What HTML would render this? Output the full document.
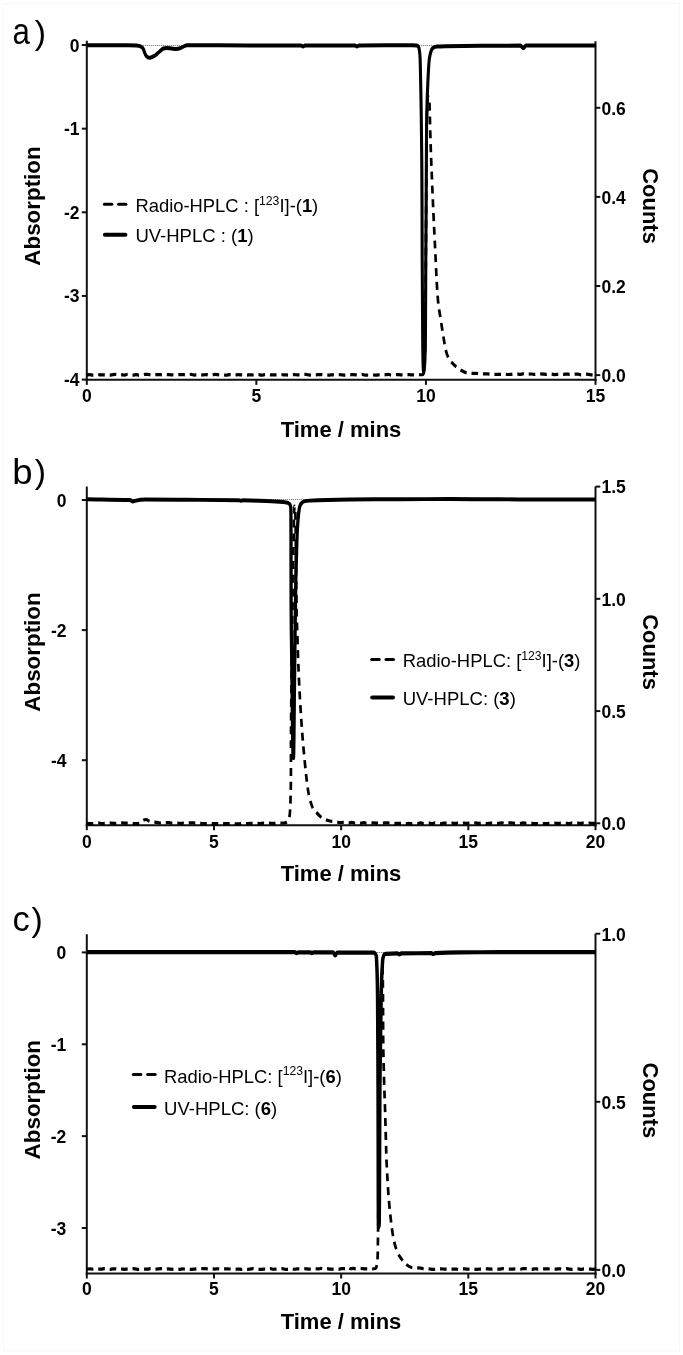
<!DOCTYPE html><html><head><meta charset="utf-8"><title>HPLC chromatograms</title>
<style>html,body{margin:0;padding:0;background:#fff;}svg{display:block;filter:blur(0.4px);}text{font-family:"Liberation Sans", sans-serif;fill:#000;}</style></head><body>
<svg width="683" height="1355" viewBox="0 0 683 1355">
<rect x="0" y="0" width="683" height="1355" fill="#fff"/>
<rect x="3.5" y="3.5" width="676" height="1347.5" fill="none" stroke="#f7f7f7" stroke-width="1"/>
<text x="0" y="0" font-size="36.0" font-weight="normal" transform="translate(12.40,43.80) scale(0.870,1)">a</text>
<text x="34.70" y="43.65" font-size="33.8" font-weight="normal">)</text>
<line x1="86.80" y1="45.50" x2="595.50" y2="45.50" stroke="#666" stroke-width="1" stroke-dasharray="1 1"/>
<line x1="86.80" y1="40.70" x2="86.80" y2="380.85" stroke="#111" stroke-width="2.00"/>
<line x1="595.50" y1="41.20" x2="595.50" y2="380.85" stroke="#111" stroke-width="2.00"/>
<line x1="85.80" y1="379.85" x2="596.50" y2="379.85" stroke="#111" stroke-width="2.00"/>
<line x1="81.80" y1="45.00" x2="86.80" y2="45.00" stroke="#111" stroke-width="2.00"/>
<text x="79.60" y="51.50" font-size="17.50" font-weight="bold" text-anchor="end" >0</text>
<line x1="81.80" y1="128.65" x2="86.80" y2="128.65" stroke="#111" stroke-width="2.00"/>
<text x="79.60" y="135.15" font-size="17.50" font-weight="bold" text-anchor="end" >-1</text>
<line x1="81.80" y1="212.30" x2="86.80" y2="212.30" stroke="#111" stroke-width="2.00"/>
<text x="79.60" y="218.80" font-size="17.50" font-weight="bold" text-anchor="end" >-2</text>
<line x1="81.80" y1="295.95" x2="86.80" y2="295.95" stroke="#111" stroke-width="2.00"/>
<text x="79.60" y="302.45" font-size="17.50" font-weight="bold" text-anchor="end" >-3</text>
<line x1="81.80" y1="379.60" x2="86.80" y2="379.60" stroke="#111" stroke-width="2.00"/>
<text x="79.60" y="386.10" font-size="17.50" font-weight="bold" text-anchor="end" >-4</text>
<line x1="595.50" y1="375.10" x2="600.30" y2="375.10" stroke="#111" stroke-width="2.00"/>
<text x="601.50" y="382.00" font-size="17.50" font-weight="bold" text-anchor="start" >0.0</text>
<line x1="595.50" y1="286.00" x2="600.30" y2="286.00" stroke="#111" stroke-width="2.00"/>
<text x="601.50" y="292.90" font-size="17.50" font-weight="bold" text-anchor="start" >0.2</text>
<line x1="595.50" y1="196.90" x2="600.30" y2="196.90" stroke="#111" stroke-width="2.00"/>
<text x="601.50" y="203.80" font-size="17.50" font-weight="bold" text-anchor="start" >0.4</text>
<line x1="595.50" y1="107.80" x2="600.30" y2="107.80" stroke="#111" stroke-width="2.00"/>
<text x="601.50" y="114.70" font-size="17.50" font-weight="bold" text-anchor="start" >0.6</text>
<line x1="86.80" y1="379.85" x2="86.80" y2="384.85" stroke="#111" stroke-width="2.00"/>
<text x="86.80" y="401.70" font-size="17.50" font-weight="bold" text-anchor="middle" >0</text>
<line x1="256.37" y1="379.85" x2="256.37" y2="384.85" stroke="#111" stroke-width="2.00"/>
<text x="256.37" y="401.70" font-size="17.50" font-weight="bold" text-anchor="middle" >5</text>
<line x1="425.93" y1="379.85" x2="425.93" y2="384.85" stroke="#111" stroke-width="2.00"/>
<text x="425.93" y="401.70" font-size="17.50" font-weight="bold" text-anchor="middle" >10</text>
<line x1="595.50" y1="379.85" x2="595.50" y2="384.85" stroke="#111" stroke-width="2.00"/>
<text x="595.50" y="401.70" font-size="17.50" font-weight="bold" text-anchor="middle" >15</text>
<text x="0" y="0" font-size="22.4" font-weight="bold" text-anchor="middle" transform="translate(40.3,206.00) rotate(-90)">Absorption</text>
<text x="0" y="0" font-size="22" font-weight="bold" text-anchor="middle" transform="translate(642.6,206.00) rotate(90)">Counts</text>
<text x="341.00" y="437.40" font-size="22.00" font-weight="bold" text-anchor="middle" >Time / mins</text>
<line x1="104.40" y1="204.30" x2="111.75" y2="204.30" stroke="#000" stroke-width="3.0" stroke-linecap="round"/>
<line x1="118.55" y1="204.30" x2="125.90" y2="204.30" stroke="#000" stroke-width="3.0" stroke-linecap="round"/>
<line x1="104.90" y1="234.70" x2="125.40" y2="234.70" stroke="#000" stroke-width="4.0" stroke-linecap="round"/>
<text x="135.40" y="212.30" font-size="18.4" font-weight="normal">Radio-HPLC : [<tspan font-size="12.2" dy="-7.4">123</tspan><tspan dy="7.4">I]-(</tspan><tspan font-weight="bold">1</tspan>)</text>
<text x="135.40" y="241.60" font-size="18.5" font-weight="normal">UV-HPLC : (<tspan font-weight="bold">1</tspan>)</text>
<g transform="scale(1,1.200)">
<path d="M86.80,312.42 C87.77,312.33 88.74,312.16 89.70,312.16 C90.67,312.16 91.64,312.66 92.61,312.66 C93.57,312.66 94.54,312.64 95.51,312.59 C96.48,312.55 97.44,312.24 98.41,312.24 C99.38,312.24 100.35,312.40 101.31,312.40 C102.28,312.40 103.25,312.37 104.22,312.37 C105.18,312.37 106.15,312.47 107.12,312.51 C108.09,312.55 109.05,312.60 110.02,312.60 C110.99,312.60 111.96,312.15 112.92,312.11 C113.89,312.08 114.86,312.07 115.83,312.07 C116.79,312.07 117.76,312.63 118.73,312.63 C119.70,312.63 120.66,312.34 121.63,312.34 C122.60,312.34 123.57,312.57 124.53,312.57 C125.50,312.57 126.47,312.04 127.44,312.04 C128.40,312.04 129.37,312.26 130.34,312.35 C131.31,312.43 132.27,312.54 133.24,312.54 C134.21,312.54 135.18,312.19 136.14,312.19 C137.11,312.19 138.08,312.69 139.05,312.69 C140.01,312.69 140.98,312.68 141.95,312.66 C142.92,312.64 143.88,312.05 144.85,312.05 C145.82,312.04 146.79,312.04 147.75,312.04 C148.72,312.04 149.69,312.29 150.66,312.40 C151.62,312.50 152.59,312.67 153.56,312.67 C154.53,312.67 155.49,312.36 156.46,312.28 C157.43,312.20 158.40,312.16 159.36,312.16 C160.33,312.16 161.30,312.31 162.27,312.31 C163.23,312.31 164.20,312.03 165.17,312.03 C166.14,312.03 167.10,312.12 168.07,312.16 C169.04,312.21 170.01,312.29 170.97,312.31 C171.94,312.34 172.91,312.35 173.88,312.35 C174.84,312.35 175.81,312.17 176.78,312.16 C177.75,312.16 178.71,312.16 179.68,312.16 C180.65,312.16 181.62,312.15 182.58,312.15 C183.55,312.15 184.52,312.32 185.49,312.32 C186.45,312.32 187.42,312.25 188.39,312.19 C189.36,312.14 190.32,312.00 191.29,312.00 C192.26,312.00 193.23,312.57 194.19,312.57 C195.16,312.57 196.13,312.40 197.10,312.37 C198.06,312.35 199.03,312.33 200.00,312.33 C200.98,312.33 201.96,312.43 202.94,312.43 C203.92,312.43 204.90,312.11 205.88,312.11 C206.86,312.11 207.84,312.68 208.82,312.68 C209.80,312.68 210.78,312.65 211.76,312.59 C212.75,312.52 213.73,312.07 214.71,312.07 C215.69,312.07 216.67,312.15 217.65,312.22 C218.63,312.29 219.61,312.49 220.59,312.49 C221.57,312.49 222.55,312.48 223.53,312.48 C224.51,312.48 225.49,312.64 226.47,312.64 C227.45,312.64 228.43,312.28 229.41,312.28 C230.39,312.28 231.37,312.56 232.35,312.56 C233.33,312.56 234.31,312.51 235.29,312.45 C236.27,312.39 237.25,312.20 238.24,312.20 C239.22,312.20 240.20,312.33 241.18,312.39 C242.16,312.46 243.14,312.60 244.12,312.60 C245.10,312.60 246.08,312.59 247.06,312.58 C248.04,312.56 249.02,312.34 250.00,312.34 C250.98,312.34 251.96,312.40 252.94,312.40 C253.92,312.40 254.90,312.01 255.88,312.01 C256.86,312.01 257.84,312.06 258.82,312.15 C259.80,312.24 260.78,312.54 261.76,312.54 C262.75,312.54 263.73,312.35 264.71,312.27 C265.69,312.20 266.67,312.10 267.65,312.10 C268.63,312.10 269.61,312.31 270.59,312.37 C271.57,312.43 272.55,312.48 273.53,312.48 C274.51,312.48 275.49,312.47 276.47,312.46 C277.45,312.44 278.43,312.25 279.41,312.25 C280.39,312.25 281.37,312.28 282.35,312.29 C283.33,312.31 284.31,312.31 285.29,312.34 C286.27,312.37 287.25,312.53 288.24,312.53 C289.22,312.53 290.20,312.39 291.18,312.35 C292.16,312.30 293.14,312.26 294.12,312.26 C295.10,312.26 296.08,312.32 297.06,312.33 C298.04,312.33 299.02,312.33 300.00,312.33 C300.98,312.33 301.97,312.00 302.95,312.00 C303.93,312.00 304.92,312.01 305.90,312.01 C306.88,312.02 307.87,312.37 308.85,312.48 C309.83,312.59 310.82,312.67 311.80,312.67 C312.78,312.67 313.77,312.47 314.75,312.40 C315.73,312.33 316.72,312.31 317.70,312.26 C318.68,312.21 319.67,312.10 320.65,312.10 C321.63,312.10 322.62,312.24 323.60,312.33 C324.58,312.43 325.57,312.67 326.55,312.67 C327.53,312.67 328.52,312.57 329.50,312.52 C330.48,312.47 331.47,312.36 332.45,312.36 C333.43,312.36 334.42,312.59 335.40,312.59 C336.38,312.59 337.37,312.15 338.35,312.15 C339.33,312.15 340.32,312.26 341.30,312.34 C342.28,312.43 343.27,312.65 344.25,312.65 C345.23,312.65 346.22,312.44 347.20,312.39 C348.18,312.33 349.17,312.34 350.15,312.30 C351.13,312.27 352.12,312.17 353.10,312.17 C354.08,312.17 355.07,312.29 356.05,312.37 C357.03,312.45 358.02,312.65 359.00,312.65 C359.98,312.65 360.97,311.99 361.95,311.99 C362.93,311.99 363.92,312.51 364.90,312.53 C365.88,312.55 366.87,312.55 367.85,312.56 C368.83,312.57 369.82,312.60 370.80,312.60 C371.78,312.60 372.77,312.50 373.75,312.50 C374.73,312.50 375.72,312.55 376.70,312.55 C377.68,312.55 378.67,312.35 379.65,312.35 C380.63,312.35 381.62,312.38 382.60,312.38 C383.58,312.38 384.57,312.34 385.55,312.28 C386.53,312.22 387.52,312.02 388.50,312.02 C389.48,312.02 390.47,312.59 391.45,312.59 C392.43,312.59 393.42,312.46 394.40,312.38 C395.38,312.30 396.37,312.12 397.35,312.12 C398.33,312.12 399.32,312.34 400.30,312.34 C401.28,312.34 402.27,312.33 403.25,312.32 C404.23,312.31 405.22,312.24 406.20,312.23 C407.18,312.23 408.17,312.23 409.15,312.23 C410.13,312.23 411.12,312.33 412.10,312.36 C413.08,312.39 414.07,312.42 415.05,312.42 C416.03,312.42 417.02,312.36 418.00,312.33 C419.53,312.28 421.07,312.28 422.60,312.17 C423.13,312.13 423.67,311.31 424.20,309.58 C424.40,308.94 424.60,305.76 424.80,300.00 C425.00,294.24 425.20,291.67 425.40,275.00 C425.53,263.89 425.67,234.72 425.80,216.67 C425.93,198.61 426.07,187.35 426.20,166.67 C426.30,151.15 426.40,122.08 426.50,113.33 C426.63,101.67 426.77,100.46 426.90,95.83 C427.07,90.05 427.23,85.95 427.40,84.17 C427.63,81.67 427.87,80.42 428.10,80.42 C428.37,80.42 428.63,80.97 428.90,82.08 C429.10,82.92 429.30,83.61 429.50,86.67 C429.63,88.70 429.77,94.13 429.90,98.33 C430.00,101.49 430.10,105.15 430.20,108.33 C430.80,127.46 431.40,137.32 432.00,150.00 C432.50,160.56 433.00,169.98 433.50,179.17 C434.07,189.58 434.63,198.74 435.20,208.33 C435.87,219.62 436.53,232.87 437.20,241.67 C438.40,257.50 439.60,259.56 440.80,266.67 C441.40,270.22 442.00,273.31 442.60,276.42 C443.73,282.29 444.87,288.67 446.00,292.50 C446.93,295.65 447.87,297.22 448.80,298.83 C450.03,300.97 451.27,301.53 452.50,302.67 C453.83,303.89 455.17,304.89 456.50,305.83 C458.00,306.89 459.50,307.82 461.00,308.58 C463.00,309.60 465.00,310.48 467.00,310.83 C468.08,311.02 469.17,311.06 470.25,311.12 C471.33,311.18 472.42,311.22 473.50,311.22 C474.58,311.22 475.67,311.13 476.75,311.13 C477.83,311.13 478.92,311.67 480.00,311.67 C481.03,311.67 482.05,311.51 483.08,311.50 C484.10,311.48 485.13,311.48 486.15,311.48 C487.18,311.48 488.21,311.70 489.23,311.78 C490.26,311.87 491.28,312.00 492.31,312.00 C493.33,312.00 494.36,311.97 495.38,311.97 C496.41,311.97 497.44,311.98 498.46,311.99 C499.49,312.00 500.51,312.02 501.54,312.02 C502.56,312.02 503.59,311.65 504.62,311.65 C505.64,311.65 506.67,312.08 507.69,312.08 C508.72,312.08 509.74,312.05 510.77,311.98 C511.79,311.91 512.82,311.60 513.85,311.59 C514.87,311.57 515.90,311.56 516.92,311.56 C517.95,311.56 518.97,311.92 520.00,311.92 C520.97,311.92 521.94,311.58 522.90,311.58 C523.87,311.58 524.84,312.11 525.81,312.11 C526.78,312.11 527.74,311.82 528.71,311.76 C529.68,311.70 530.65,311.67 531.62,311.67 C532.58,311.67 533.55,312.04 534.52,312.04 C535.49,312.04 536.46,311.91 537.42,311.85 C538.39,311.78 539.36,311.66 540.33,311.66 C541.29,311.66 542.26,311.68 543.23,311.73 C544.20,311.78 545.17,311.99 546.13,311.99 C547.10,311.99 548.07,311.75 549.04,311.75 C550.01,311.75 550.97,311.78 551.94,311.83 C552.91,311.88 553.88,312.14 554.85,312.14 C555.81,312.14 556.78,312.01 557.75,311.97 C558.72,311.92 559.69,311.88 560.65,311.88 C561.62,311.88 562.59,311.99 563.56,311.99 C564.53,311.99 565.49,311.69 566.46,311.69 C567.43,311.69 568.40,311.93 569.37,311.95 C570.33,311.97 571.30,311.98 572.27,311.98 C573.24,311.98 574.21,311.85 575.17,311.82 C576.14,311.79 577.11,311.77 578.08,311.77 C579.04,311.77 580.01,312.33 580.98,312.33 C581.95,312.33 582.92,312.14 583.88,312.06 C584.85,311.99 585.82,311.86 586.79,311.86 C587.76,311.86 588.72,312.07 589.69,312.14 C590.66,312.22 591.63,312.30 592.60,312.30 C593.56,312.30 594.53,312.16 595.50,312.08" fill="none" stroke="#000" stroke-width="2.70" stroke-dasharray="6.6 4.9" stroke-linejoin="round"/>
</g>
<g transform="scale(1,1.300)">
<path d="M86.80,34.77 C97.87,34.79 108.93,34.80 120.00,34.85 C125.47,34.87 130.93,34.87 136.40,34.92 C137.97,34.94 139.53,35.26 141.10,35.92 C141.87,36.25 142.63,36.54 143.40,37.77 C143.80,38.41 144.20,39.67 144.60,40.46 C145.17,41.58 145.73,42.66 146.30,43.15 C147.30,44.03 148.30,44.46 149.30,44.46 C150.07,44.46 150.83,44.21 151.60,44.00 C152.77,43.69 153.93,43.28 155.10,42.69 C156.67,41.91 158.23,40.56 159.80,39.54 C160.97,38.78 162.13,37.62 163.30,37.31 C164.47,37.00 165.63,36.85 166.80,36.85 C168.37,36.85 169.93,37.15 171.50,37.31 C173.07,37.46 174.63,37.77 176.20,37.77 C177.77,37.77 179.33,37.33 180.90,36.85 C182.07,36.48 183.23,35.82 184.40,35.46 C185.23,35.20 186.07,34.85 186.90,34.85 C207.93,34.85 228.97,34.92 250.00,34.92 C267.00,34.92 284.00,34.92 301.00,34.92 C301.67,34.92 302.33,35.69 303.00,35.69 C303.67,35.69 304.33,34.92 305.00,34.92 C321.67,34.92 338.33,34.92 355.00,34.92 C355.67,34.92 356.33,35.69 357.00,35.69 C357.67,35.69 358.33,34.93 359.00,34.92 C376.67,34.87 394.33,34.85 412.00,34.85 C413.60,34.85 415.20,34.87 416.80,34.92 C417.40,34.94 418.00,35.38 418.60,36.31 C418.93,36.82 419.27,37.54 419.60,40.00 C419.77,41.23 419.93,41.54 420.10,44.62 C420.30,48.31 420.50,56.52 420.70,64.62 C420.97,75.41 421.23,83.33 421.50,104.62 C421.67,117.92 421.83,121.68 422.00,153.85 C422.07,166.71 422.13,186.67 422.20,200.00 C422.37,233.33 422.53,247.97 422.70,261.54 C422.83,272.39 422.97,277.54 423.10,280.77 C423.23,284.00 423.37,285.62 423.50,285.62 C423.67,285.62 423.83,285.62 424.00,285.62 C424.20,285.62 424.40,283.75 424.60,280.77 C424.87,276.79 425.13,274.36 425.40,261.54 C425.53,255.13 425.67,217.95 425.80,200.00 C425.93,182.05 426.07,172.94 426.20,153.85 C426.30,139.52 426.40,112.75 426.50,104.62 C426.73,85.64 426.97,82.95 427.20,76.15 C427.40,70.33 427.60,68.16 427.80,64.62 C428.03,60.48 428.27,56.54 428.50,53.46 C428.73,50.38 428.97,47.98 429.20,46.15 C429.50,43.81 429.80,43.28 430.10,42.15 C430.57,40.41 431.03,39.32 431.50,38.46 C432.17,37.23 432.83,36.91 433.50,36.62 C434.67,36.10 435.83,35.94 437.00,35.85 C439.67,35.64 442.33,35.59 445.00,35.54 C456.67,35.33 468.33,35.31 480.00,35.23 C493.50,35.14 507.00,35.08 520.50,35.08 C521.43,35.08 522.37,37.08 523.30,37.08 C524.20,37.08 525.10,35.09 526.00,35.08 C537.33,34.97 548.67,34.92 560.00,34.92 C571.83,34.92 583.67,34.92 595.50,34.92" fill="none" stroke="#000" stroke-width="3.10" stroke-linejoin="round" stroke-linecap="butt"/>
</g>
<text x="0" y="0" font-size="34.5" font-weight="normal" transform="translate(12.30,484.00) scale(1.060,1)">b</text>
<text x="34.70" y="483.45" font-size="33.8" font-weight="normal">)</text>
<line x1="86.80" y1="499.50" x2="595.50" y2="499.50" stroke="#666" stroke-width="1" stroke-dasharray="1 1"/>
<line x1="86.80" y1="486.60" x2="86.80" y2="826.20" stroke="#111" stroke-width="2.00"/>
<line x1="595.50" y1="486.60" x2="595.50" y2="826.20" stroke="#111" stroke-width="2.00"/>
<line x1="85.80" y1="825.20" x2="596.50" y2="825.20" stroke="#111" stroke-width="2.00"/>
<line x1="81.80" y1="500.00" x2="86.80" y2="500.00" stroke="#111" stroke-width="2.00"/>
<text x="66.60" y="506.50" font-size="17.50" font-weight="bold" text-anchor="end" >0</text>
<line x1="81.80" y1="630.10" x2="86.80" y2="630.10" stroke="#111" stroke-width="2.00"/>
<text x="66.60" y="636.60" font-size="17.50" font-weight="bold" text-anchor="end" >-2</text>
<line x1="81.80" y1="760.20" x2="86.80" y2="760.20" stroke="#111" stroke-width="2.00"/>
<text x="66.60" y="766.70" font-size="17.50" font-weight="bold" text-anchor="end" >-4</text>
<line x1="595.50" y1="823.30" x2="600.30" y2="823.30" stroke="#111" stroke-width="2.00"/>
<text x="601.50" y="830.20" font-size="17.50" font-weight="bold" text-anchor="start" >0.0</text>
<line x1="595.50" y1="711.06" x2="600.30" y2="711.06" stroke="#111" stroke-width="2.00"/>
<text x="601.50" y="717.96" font-size="17.50" font-weight="bold" text-anchor="start" >0.5</text>
<line x1="595.50" y1="598.83" x2="600.30" y2="598.83" stroke="#111" stroke-width="2.00"/>
<text x="601.50" y="605.73" font-size="17.50" font-weight="bold" text-anchor="start" >1.0</text>
<line x1="595.50" y1="486.59" x2="600.30" y2="486.59" stroke="#111" stroke-width="2.00"/>
<text x="601.50" y="493.49" font-size="17.50" font-weight="bold" text-anchor="start" >1.5</text>
<line x1="86.80" y1="825.20" x2="86.80" y2="830.20" stroke="#111" stroke-width="2.00"/>
<text x="86.80" y="847.50" font-size="17.50" font-weight="bold" text-anchor="middle" >0</text>
<line x1="213.97" y1="825.20" x2="213.97" y2="830.20" stroke="#111" stroke-width="2.00"/>
<text x="213.97" y="847.50" font-size="17.50" font-weight="bold" text-anchor="middle" >5</text>
<line x1="341.15" y1="825.20" x2="341.15" y2="830.20" stroke="#111" stroke-width="2.00"/>
<text x="341.15" y="847.50" font-size="17.50" font-weight="bold" text-anchor="middle" >10</text>
<line x1="468.32" y1="825.20" x2="468.32" y2="830.20" stroke="#111" stroke-width="2.00"/>
<text x="468.32" y="847.50" font-size="17.50" font-weight="bold" text-anchor="middle" >15</text>
<line x1="595.50" y1="825.20" x2="595.50" y2="830.20" stroke="#111" stroke-width="2.00"/>
<text x="595.50" y="847.50" font-size="17.50" font-weight="bold" text-anchor="middle" >20</text>
<text x="0" y="0" font-size="22.4" font-weight="bold" text-anchor="middle" transform="translate(40.3,652.00) rotate(-90)">Absorption</text>
<text x="0" y="0" font-size="22" font-weight="bold" text-anchor="middle" transform="translate(642.6,652.00) rotate(90)">Counts</text>
<text x="341.00" y="881.20" font-size="22.00" font-weight="bold" text-anchor="middle" >Time / mins</text>
<line x1="371.70" y1="659.40" x2="379.20" y2="659.40" stroke="#000" stroke-width="3.0" stroke-linecap="round"/>
<line x1="386.00" y1="659.40" x2="393.50" y2="659.40" stroke="#000" stroke-width="3.0" stroke-linecap="round"/>
<line x1="372.20" y1="697.40" x2="393.00" y2="697.40" stroke="#000" stroke-width="4.0" stroke-linecap="round"/>
<text x="402.70" y="667.30" font-size="18.4" font-weight="normal">Radio-HPLC: [<tspan font-size="12.2" dy="-7.4">123</tspan><tspan dy="7.4">I]-(</tspan><tspan font-weight="bold">3</tspan>)</text>
<text x="402.70" y="704.80" font-size="18.5" font-weight="normal">UV-HPLC: (<tspan font-weight="bold">3</tspan>)</text>
<g transform="scale(1,1.200)">
<path d="M86.80,686.08 C87.79,686.19 88.77,686.40 89.76,686.40 C90.74,686.40 91.73,686.39 92.71,686.39 C93.70,686.38 94.68,685.76 95.67,685.76 C96.65,685.76 97.64,685.76 98.62,685.77 C99.61,685.78 100.59,686.30 101.58,686.30 C102.56,686.30 103.55,686.24 104.53,686.22 C105.52,686.20 106.50,686.20 107.49,686.17 C108.47,686.14 109.46,685.91 110.44,685.91 C111.43,685.91 112.41,686.12 113.40,686.12 C114.39,686.12 115.37,686.11 116.36,686.11 C117.34,686.11 118.33,686.10 119.31,686.09 C120.30,686.07 121.28,685.79 122.27,685.79 C123.25,685.79 124.24,685.97 125.22,685.97 C126.21,685.97 127.19,685.94 128.18,685.94 C129.16,685.94 130.15,686.10 131.13,686.17 C132.12,686.24 133.10,686.36 134.09,686.36 C135.07,686.36 136.06,686.34 137.04,686.32 C138.03,686.29 139.01,686.21 140.00,686.00 C141.00,685.78 142.00,684.26 143.00,683.75 C144.00,683.24 145.00,682.92 146.00,682.92 C147.33,682.92 148.67,684.23 150.00,684.58 C151.11,684.88 152.22,684.90 153.33,685.03 C154.44,685.16 155.56,685.24 156.67,685.38 C157.78,685.51 158.89,685.83 160.00,685.83 C160.97,685.83 161.94,685.74 162.92,685.69 C163.89,685.64 164.86,685.54 165.83,685.54 C166.81,685.54 167.78,685.55 168.75,685.55 C169.72,685.56 170.69,685.88 171.67,685.88 C172.64,685.88 173.61,685.79 174.58,685.79 C175.56,685.79 176.53,685.81 177.50,685.85 C178.47,685.89 179.44,686.23 180.42,686.23 C181.39,686.23 182.36,685.99 183.33,685.99 C184.31,685.99 185.28,686.03 186.25,686.03 C187.22,686.03 188.19,685.88 189.17,685.82 C190.14,685.77 191.11,685.69 192.08,685.69 C193.06,685.69 194.03,685.92 195.00,685.92 C195.97,685.92 196.94,685.80 197.92,685.80 C198.89,685.80 199.86,685.98 200.83,686.08 C201.81,686.19 202.78,686.44 203.75,686.44 C204.72,686.44 205.69,686.32 206.67,686.23 C207.64,686.14 208.61,685.91 209.58,685.91 C210.56,685.91 211.53,686.42 212.50,686.42 C213.47,686.42 214.44,686.38 215.42,686.37 C216.39,686.36 217.36,686.34 218.33,686.34 C219.31,686.34 220.28,686.48 221.25,686.48 C222.22,686.48 223.19,686.40 224.17,686.40 C225.14,686.40 226.11,686.44 227.08,686.44 C228.06,686.44 229.03,686.30 230.00,686.25 C231.00,686.20 232.00,686.12 233.00,686.12 C234.00,686.12 235.00,686.54 236.00,686.54 C237.00,686.54 238.00,686.53 239.00,686.50 C240.00,686.48 241.00,685.92 242.00,685.92 C243.00,685.92 244.00,686.31 245.00,686.31 C246.00,686.31 247.00,686.30 248.00,686.26 C249.00,686.23 250.00,686.06 251.00,686.06 C252.00,686.06 253.00,686.09 254.00,686.09 C255.00,686.09 256.00,686.03 257.00,686.03 C258.00,686.03 259.00,686.32 260.00,686.32 C261.00,686.32 262.00,686.00 263.00,686.00 C264.00,686.00 265.00,686.20 266.00,686.20 C267.00,686.20 268.00,685.85 269.00,685.85 C270.00,685.85 271.00,686.19 272.00,686.19 C273.00,686.19 274.00,686.19 275.00,686.18 C276.00,686.17 277.00,685.85 278.00,685.85 C279.00,685.85 280.00,685.90 281.00,685.90 C282.00,685.90 283.00,685.88 284.00,685.83 C284.83,685.79 285.67,685.61 286.50,685.17 C287.17,684.81 287.83,684.56 288.50,683.33 C288.93,682.54 289.37,681.67 289.80,678.33 C290.03,676.54 290.27,674.27 290.50,666.67 C290.63,662.32 290.77,661.11 290.90,650.00 C290.93,647.22 290.97,624.07 291.00,616.67 C291.10,594.44 291.20,593.25 291.30,583.33 C291.53,560.19 291.77,547.94 292.00,533.33 C292.33,512.46 292.67,501.16 293.00,483.33 C293.20,472.64 293.40,460.69 293.60,450.00 C293.73,442.87 293.87,432.50 294.00,429.17 C294.20,424.17 294.40,421.67 294.60,421.67 C294.83,421.67 295.07,423.33 295.30,426.67 C295.47,429.05 295.63,439.17 295.80,450.00 C295.97,460.83 296.13,480.16 296.30,491.67 C296.70,519.28 297.10,521.67 297.50,533.33 C298.00,547.92 298.50,557.30 299.00,566.67 C299.47,575.41 299.93,581.76 300.40,588.33 C300.93,595.85 301.47,602.25 302.00,608.33 C302.87,618.21 303.73,625.85 304.60,633.33 C305.73,643.12 306.87,652.14 308.00,658.33 C309.20,664.89 310.40,667.81 311.60,670.83 C313.37,675.28 315.13,675.69 316.90,677.50 C320.13,680.82 323.37,682.23 326.60,683.33 C327.72,683.71 328.83,683.96 329.95,684.17 C331.07,684.38 332.18,684.44 333.30,684.57 C334.42,684.70 335.53,684.79 336.65,684.95 C337.77,685.10 338.88,685.50 340.00,685.50 C341.00,685.50 342.00,685.33 343.00,685.33 C344.00,685.33 345.00,685.37 346.00,685.44 C347.00,685.50 348.00,685.73 349.00,685.73 C350.00,685.73 351.00,685.38 352.00,685.38 C353.00,685.38 354.00,685.93 355.00,685.93 C356.00,685.93 357.00,685.51 358.00,685.51 C359.00,685.51 360.00,685.99 361.00,685.99 C362.00,685.99 363.00,685.60 364.00,685.60 C365.00,685.60 366.00,686.08 367.00,686.08 C368.00,686.08 369.00,685.98 370.00,685.94 C371.00,685.89 372.00,685.82 373.00,685.82 C374.00,685.82 375.00,685.84 376.00,685.86 C377.00,685.89 378.00,685.99 379.00,685.99 C380.00,685.99 381.00,685.98 382.00,685.97 C383.00,685.96 384.00,685.83 385.00,685.81 C386.00,685.78 387.00,685.76 388.00,685.76 C389.00,685.76 390.00,685.91 391.00,686.00 C392.00,686.10 393.00,686.33 394.00,686.33 C395.00,686.33 396.00,686.18 397.00,686.14 C398.00,686.10 399.00,686.12 400.00,686.08 C400.97,686.05 401.95,685.79 402.92,685.79 C403.89,685.79 404.86,686.31 405.84,686.31 C406.81,686.31 407.78,686.24 408.75,686.24 C409.73,686.24 410.70,686.37 411.67,686.37 C412.64,686.37 413.62,685.87 414.59,685.87 C415.56,685.87 416.53,686.25 417.51,686.25 C418.48,686.25 419.45,685.77 420.43,685.77 C421.40,685.77 422.37,686.19 423.34,686.19 C424.32,686.19 425.29,685.95 426.26,685.92 C427.23,685.90 428.21,685.89 429.18,685.89 C430.15,685.89 431.12,686.35 432.10,686.35 C433.07,686.35 434.04,685.81 435.01,685.81 C435.99,685.81 436.96,686.01 437.93,686.10 C438.91,686.19 439.88,686.33 440.85,686.33 C441.82,686.33 442.80,685.92 443.77,685.90 C444.74,685.89 445.71,685.88 446.69,685.88 C447.66,685.88 448.63,686.35 449.60,686.35 C450.58,686.35 451.55,686.03 452.52,686.03 C453.50,686.03 454.47,686.24 455.44,686.24 C456.41,686.24 457.39,685.76 458.36,685.76 C459.33,685.76 460.30,685.99 461.28,685.99 C462.25,685.99 463.22,685.85 464.19,685.85 C465.17,685.85 466.14,686.20 467.11,686.20 C468.08,686.20 469.06,685.79 470.03,685.79 C471.00,685.79 471.98,686.40 472.95,686.40 C473.92,686.40 474.89,685.75 475.87,685.75 C476.84,685.75 477.81,686.24 478.78,686.24 C479.76,686.24 480.73,685.75 481.70,685.75 C482.67,685.75 483.65,685.82 484.62,685.91 C485.59,686.00 486.56,686.30 487.54,686.30 C488.51,686.30 489.48,685.84 490.46,685.84 C491.43,685.84 492.40,685.85 493.37,685.86 C494.35,685.87 495.32,686.22 496.29,686.22 C497.26,686.22 498.24,686.08 499.21,686.00 C500.18,685.93 501.15,685.76 502.13,685.76 C503.10,685.76 504.07,686.43 505.04,686.43 C506.02,686.43 506.99,685.89 507.96,685.84 C508.94,685.79 509.91,685.76 510.88,685.76 C511.85,685.76 512.83,685.91 513.80,685.97 C514.77,686.04 515.74,686.12 516.72,686.16 C517.69,686.21 518.66,686.25 519.63,686.25 C520.61,686.25 521.58,685.81 522.55,685.81 C523.52,685.81 524.50,685.97 525.47,685.97 C526.44,685.97 527.42,685.75 528.39,685.75 C529.36,685.75 530.33,685.96 531.31,686.05 C532.28,686.13 533.25,686.27 534.22,686.27 C535.20,686.27 536.17,686.25 537.14,686.25 C538.11,686.25 539.09,686.36 540.06,686.36 C541.03,686.36 542.00,686.26 542.98,686.26 C543.95,686.26 544.92,686.34 545.90,686.34 C546.87,686.34 547.84,686.27 548.81,686.23 C549.79,686.18 550.76,686.12 551.73,686.06 C552.70,686.01 553.68,685.89 554.65,685.89 C555.62,685.89 556.59,686.20 557.57,686.20 C558.54,686.20 559.51,686.02 560.49,685.95 C561.46,685.89 562.43,685.80 563.40,685.80 C564.38,685.80 565.35,685.96 566.32,686.05 C567.29,686.14 568.27,686.35 569.24,686.35 C570.21,686.35 571.18,685.82 572.16,685.82 C573.13,685.82 574.10,686.14 575.07,686.14 C576.05,686.14 577.02,686.01 577.99,686.01 C578.97,686.01 579.94,686.09 580.91,686.09 C581.88,686.09 582.86,685.83 583.83,685.83 C584.80,685.83 585.77,686.41 586.75,686.41 C587.72,686.41 588.69,685.91 589.66,685.91 C590.64,685.91 591.61,686.16 592.58,686.16 C593.55,686.16 594.53,686.11 595.50,686.08" fill="none" stroke="#000" stroke-width="2.70" stroke-dasharray="6.6 4.9" stroke-linejoin="round"/>
</g>
<g transform="scale(1,1.200)">
<path d="M86.80,416.00 C101.20,416.22 115.60,416.22 130.00,416.67 C130.97,416.70 131.93,417.83 132.90,417.83 C133.93,417.83 134.97,417.36 136.00,417.17 C138.87,416.64 141.73,416.33 144.60,416.33 C158.40,416.33 172.20,416.43 186.00,416.50 C203.60,416.59 221.20,416.61 238.80,416.83 C239.47,416.84 240.13,417.33 240.80,417.33 C241.47,417.33 242.13,416.92 242.80,416.92 C250.70,416.92 258.60,417.24 266.50,417.58 C272.93,417.86 279.37,417.94 285.80,418.67 C286.63,418.76 287.47,418.83 288.30,419.17 C288.83,419.38 289.37,419.58 289.90,420.42 C290.20,420.89 290.50,421.39 290.80,423.33 C290.85,423.66 290.90,425.28 290.95,429.17 C290.97,430.46 290.98,442.59 291.00,450.00 C291.03,464.81 291.07,494.44 291.10,500.00 C291.27,527.78 291.43,528.83 291.60,541.67 C291.80,557.07 292.00,569.75 292.20,583.33 C292.37,594.65 292.53,608.26 292.70,616.67 C292.83,623.40 292.97,631.67 293.10,631.67 C293.23,631.67 293.37,631.67 293.50,631.67 C293.63,631.67 293.77,624.72 293.90,616.67 C294.03,608.61 294.17,593.87 294.30,583.33 C294.53,564.90 294.77,549.03 295.00,533.33 C295.27,515.40 295.53,495.34 295.80,483.33 C296.03,472.82 296.27,469.67 296.50,462.50 C296.63,458.41 296.77,453.59 296.90,450.00 C297.27,440.12 297.63,437.57 298.00,433.33 C298.40,428.71 298.80,426.26 299.20,424.17 C299.57,422.25 299.93,421.65 300.30,420.83 C300.80,419.72 301.30,419.62 301.80,419.17 C302.53,418.50 303.27,418.00 304.00,417.83 C306.00,417.39 308.00,417.26 310.00,417.17 C323.33,416.56 336.67,416.38 350.00,416.25 C366.67,416.08 383.33,416.06 400.00,416.00 C416.67,415.94 433.33,415.92 450.00,415.92 C466.67,415.92 483.33,416.02 500.00,416.08 C513.33,416.13 526.67,416.25 540.00,416.25 C550.00,416.25 560.00,416.25 570.00,416.25 C578.50,416.25 587.00,416.25 595.50,416.25" fill="none" stroke="#000" stroke-width="3.30" stroke-linejoin="round" stroke-linecap="butt"/>
</g>
<text x="0" y="0" font-size="34.5" font-weight="normal" transform="translate(12.40,931.20) scale(1.000,1)">c</text>
<text x="31.40" y="930.70" font-size="33.8" font-weight="normal">)</text>
<line x1="86.80" y1="952.50" x2="595.50" y2="952.50" stroke="#666" stroke-width="1" stroke-dasharray="1 1"/>
<line x1="86.80" y1="934.30" x2="86.80" y2="1274.50" stroke="#111" stroke-width="2.00"/>
<line x1="595.50" y1="933.70" x2="595.50" y2="1274.50" stroke="#111" stroke-width="2.00"/>
<line x1="85.80" y1="1273.50" x2="596.50" y2="1273.50" stroke="#111" stroke-width="2.00"/>
<line x1="81.80" y1="952.40" x2="86.80" y2="952.40" stroke="#111" stroke-width="2.00"/>
<text x="66.20" y="958.90" font-size="17.50" font-weight="bold" text-anchor="end" >0</text>
<line x1="81.80" y1="1044.27" x2="86.80" y2="1044.27" stroke="#111" stroke-width="2.00"/>
<text x="66.20" y="1050.77" font-size="17.50" font-weight="bold" text-anchor="end" >-1</text>
<line x1="81.80" y1="1136.13" x2="86.80" y2="1136.13" stroke="#111" stroke-width="2.00"/>
<text x="66.20" y="1142.63" font-size="17.50" font-weight="bold" text-anchor="end" >-2</text>
<line x1="81.80" y1="1228.00" x2="86.80" y2="1228.00" stroke="#111" stroke-width="2.00"/>
<text x="66.20" y="1234.50" font-size="17.50" font-weight="bold" text-anchor="end" >-3</text>
<line x1="595.50" y1="1269.90" x2="600.30" y2="1269.90" stroke="#111" stroke-width="2.00"/>
<text x="601.50" y="1276.80" font-size="17.50" font-weight="bold" text-anchor="start" >0.0</text>
<line x1="595.50" y1="1101.80" x2="600.30" y2="1101.80" stroke="#111" stroke-width="2.00"/>
<text x="601.50" y="1108.70" font-size="17.50" font-weight="bold" text-anchor="start" >0.5</text>
<line x1="595.50" y1="933.70" x2="600.30" y2="933.70" stroke="#111" stroke-width="2.00"/>
<text x="601.50" y="940.60" font-size="17.50" font-weight="bold" text-anchor="start" >1.0</text>
<line x1="86.80" y1="1273.50" x2="86.80" y2="1278.50" stroke="#111" stroke-width="2.00"/>
<text x="86.80" y="1295.30" font-size="17.50" font-weight="bold" text-anchor="middle" >0</text>
<line x1="213.97" y1="1273.50" x2="213.97" y2="1278.50" stroke="#111" stroke-width="2.00"/>
<text x="213.97" y="1295.30" font-size="17.50" font-weight="bold" text-anchor="middle" >5</text>
<line x1="341.15" y1="1273.50" x2="341.15" y2="1278.50" stroke="#111" stroke-width="2.00"/>
<text x="341.15" y="1295.30" font-size="17.50" font-weight="bold" text-anchor="middle" >10</text>
<line x1="468.32" y1="1273.50" x2="468.32" y2="1278.50" stroke="#111" stroke-width="2.00"/>
<text x="468.32" y="1295.30" font-size="17.50" font-weight="bold" text-anchor="middle" >15</text>
<line x1="595.50" y1="1273.50" x2="595.50" y2="1278.50" stroke="#111" stroke-width="2.00"/>
<text x="595.50" y="1295.30" font-size="17.50" font-weight="bold" text-anchor="middle" >20</text>
<text x="0" y="0" font-size="22.4" font-weight="bold" text-anchor="middle" transform="translate(40.3,1099.70) rotate(-90)">Absorption</text>
<text x="0" y="0" font-size="22" font-weight="bold" text-anchor="middle" transform="translate(642.6,1100.40) rotate(90)">Counts</text>
<text x="341.00" y="1329.00" font-size="22.00" font-weight="bold" text-anchor="middle" >Time / mins</text>
<line x1="133.40" y1="1074.60" x2="140.90" y2="1074.60" stroke="#000" stroke-width="3.0" stroke-linecap="round"/>
<line x1="147.70" y1="1074.60" x2="155.20" y2="1074.60" stroke="#000" stroke-width="3.0" stroke-linecap="round"/>
<line x1="133.90" y1="1107.10" x2="154.70" y2="1107.10" stroke="#000" stroke-width="4.0" stroke-linecap="round"/>
<text x="164.10" y="1082.60" font-size="18.4" font-weight="normal">Radio-HPLC: [<tspan font-size="12.2" dy="-7.4">123</tspan><tspan dy="7.4">I]-(</tspan><tspan font-weight="bold">6</tspan>)</text>
<text x="164.10" y="1114.50" font-size="18.5" font-weight="normal">UV-HPLC: (<tspan font-weight="bold">6</tspan>)</text>
<g transform="scale(1,1.200)">
<path d="M86.80,1057.58 C87.77,1057.52 88.74,1057.40 89.70,1057.40 C90.67,1057.40 91.64,1057.61 92.61,1057.61 C93.57,1057.61 94.54,1057.48 95.51,1057.48 C96.48,1057.48 97.44,1057.63 98.41,1057.64 C99.38,1057.65 100.35,1057.65 101.31,1057.65 C102.28,1057.65 103.25,1057.28 104.22,1057.25 C105.18,1057.23 106.15,1057.21 107.12,1057.21 C108.09,1057.21 109.05,1057.79 110.02,1057.79 C110.99,1057.79 111.96,1057.39 112.92,1057.38 C113.89,1057.36 114.86,1057.35 115.83,1057.35 C116.79,1057.35 117.76,1057.88 118.73,1057.88 C119.70,1057.88 120.66,1057.51 121.63,1057.51 C122.60,1057.51 123.57,1057.76 124.53,1057.76 C125.50,1057.76 126.47,1057.51 127.44,1057.51 C128.40,1057.51 129.37,1057.62 130.34,1057.62 C131.31,1057.62 132.27,1057.27 133.24,1057.27 C134.21,1057.27 135.18,1057.52 136.14,1057.61 C137.11,1057.69 138.08,1057.76 139.05,1057.76 C140.01,1057.76 140.98,1057.52 141.95,1057.52 C142.92,1057.52 143.88,1057.67 144.85,1057.67 C145.82,1057.67 146.79,1057.65 147.75,1057.61 C148.72,1057.58 149.69,1057.18 150.66,1057.18 C151.62,1057.18 152.59,1057.67 153.56,1057.67 C154.53,1057.67 155.49,1057.60 156.46,1057.54 C157.43,1057.49 158.40,1057.40 159.36,1057.34 C160.33,1057.27 161.30,1057.14 162.27,1057.14 C163.23,1057.14 164.20,1057.72 165.17,1057.72 C166.14,1057.72 167.10,1057.44 168.07,1057.44 C169.04,1057.44 170.01,1057.57 170.97,1057.61 C171.94,1057.66 172.91,1057.72 173.88,1057.72 C174.84,1057.72 175.81,1057.60 176.78,1057.60 C177.75,1057.60 178.71,1057.74 179.68,1057.74 C180.65,1057.74 181.62,1057.37 182.58,1057.37 C183.55,1057.37 184.52,1057.65 185.49,1057.65 C186.45,1057.65 187.42,1057.39 188.39,1057.39 C189.36,1057.39 190.32,1057.73 191.29,1057.73 C192.26,1057.73 193.23,1057.72 194.19,1057.69 C195.16,1057.66 196.13,1057.14 197.10,1057.14 C198.06,1057.14 199.03,1057.42 200.00,1057.42 C200.98,1057.42 201.96,1057.16 202.94,1057.16 C203.92,1057.16 204.90,1057.18 205.88,1057.22 C206.86,1057.26 207.84,1057.75 208.82,1057.75 C209.80,1057.75 210.78,1057.38 211.76,1057.38 C212.75,1057.38 213.73,1057.52 214.71,1057.52 C215.69,1057.52 216.67,1057.29 217.65,1057.29 C218.63,1057.29 219.61,1057.44 220.59,1057.44 C221.57,1057.44 222.55,1057.37 223.53,1057.36 C224.51,1057.34 225.49,1057.33 226.47,1057.33 C227.45,1057.33 228.43,1057.50 229.41,1057.50 C230.39,1057.50 231.37,1057.50 232.35,1057.50 C233.33,1057.50 234.31,1057.73 235.29,1057.73 C236.27,1057.73 237.25,1057.58 238.24,1057.58 C239.22,1057.58 240.20,1057.75 241.18,1057.75 C242.16,1057.75 243.14,1057.70 244.12,1057.70 C245.10,1057.70 246.08,1057.80 247.06,1057.80 C248.04,1057.80 249.02,1057.67 250.00,1057.58 C250.98,1057.48 251.96,1057.22 252.94,1057.22 C253.92,1057.22 254.90,1057.67 255.88,1057.72 C256.86,1057.77 257.84,1057.79 258.82,1057.79 C259.80,1057.79 260.78,1057.78 261.76,1057.75 C262.75,1057.73 263.73,1057.52 264.71,1057.52 C265.69,1057.52 266.67,1057.62 267.65,1057.62 C268.63,1057.62 269.61,1057.27 270.59,1057.27 C271.57,1057.27 272.55,1057.71 273.53,1057.71 C274.51,1057.71 275.49,1057.59 276.47,1057.53 C277.45,1057.47 278.43,1057.39 279.41,1057.33 C280.39,1057.27 281.37,1057.18 282.35,1057.18 C283.33,1057.18 284.31,1057.67 285.29,1057.74 C286.27,1057.80 287.25,1057.83 288.24,1057.83 C289.22,1057.83 290.20,1057.20 291.18,1057.20 C292.16,1057.20 293.14,1057.71 294.12,1057.71 C295.10,1057.71 296.08,1057.43 297.06,1057.43 C298.04,1057.43 299.02,1057.50 300.00,1057.50 C301.00,1057.50 302.00,1057.24 303.00,1057.24 C304.00,1057.24 305.00,1057.27 306.00,1057.32 C307.00,1057.38 308.00,1057.60 309.00,1057.64 C310.00,1057.68 311.00,1057.69 312.00,1057.69 C313.00,1057.69 314.00,1057.10 315.00,1057.10 C316.00,1057.10 317.00,1057.48 318.00,1057.48 C319.00,1057.48 320.00,1057.06 321.00,1057.06 C322.00,1057.06 323.00,1057.52 324.00,1057.52 C325.00,1057.52 326.00,1057.23 327.00,1057.23 C328.00,1057.23 329.00,1057.56 330.00,1057.60 C331.00,1057.64 332.00,1057.65 333.00,1057.65 C334.00,1057.65 335.00,1057.30 336.00,1057.30 C337.00,1057.30 338.00,1057.63 339.00,1057.63 C340.00,1057.63 341.00,1057.13 342.00,1057.13 C343.00,1057.13 344.00,1057.25 345.00,1057.25 C345.67,1057.25 346.33,1055.83 347.00,1055.83 C348.00,1055.83 349.00,1057.25 350.00,1057.25 C351.05,1057.25 352.10,1056.99 353.14,1056.99 C354.19,1056.99 355.24,1057.39 356.29,1057.39 C357.33,1057.39 358.38,1057.03 359.43,1057.03 C360.48,1057.03 361.52,1057.13 362.57,1057.18 C363.62,1057.24 364.67,1057.30 365.71,1057.36 C366.76,1057.42 367.81,1057.54 368.86,1057.54 C369.90,1057.54 370.95,1057.53 372.00,1057.50 C373.17,1057.47 374.33,1057.36 375.50,1057.08 C375.93,1056.98 376.37,1056.25 376.80,1054.58 C377.10,1053.43 377.40,1051.67 377.70,1045.83 C377.80,1043.89 377.90,1035.47 378.00,1029.17 C378.13,1020.77 378.27,1013.24 378.40,1000.00 C378.60,980.14 378.80,933.33 379.00,916.67 C379.33,888.89 379.67,889.70 380.00,875.00 C380.30,861.77 380.60,843.43 380.90,833.33 C381.13,825.48 381.37,821.32 381.60,816.67 C381.80,812.67 382.00,806.67 382.20,806.67 C382.37,806.67 382.53,808.61 382.70,812.50 C382.80,814.83 382.90,820.56 383.00,833.33 C383.07,841.85 383.13,861.11 383.20,866.67 C383.40,883.33 383.60,884.31 383.80,891.67 C384.23,907.60 384.67,913.68 385.10,925.67 C385.57,938.58 386.03,956.50 386.50,966.67 C386.87,974.66 387.23,978.81 387.60,984.17 C387.80,987.09 388.00,989.95 388.20,992.50 C388.57,997.17 388.93,1000.69 389.30,1004.17 C389.77,1008.59 390.23,1011.97 390.70,1015.42 C391.27,1019.61 391.83,1023.49 392.40,1026.67 C393.10,1030.59 393.80,1033.28 394.50,1035.83 C395.50,1039.48 396.50,1041.59 397.50,1043.67 C398.83,1046.44 400.17,1047.59 401.50,1049.17 C403.10,1051.06 404.70,1052.65 406.30,1053.75 C409.20,1055.75 412.10,1056.75 415.00,1056.75 C416.00,1056.75 417.00,1056.66 418.00,1056.66 C419.00,1056.66 420.00,1056.68 421.00,1056.73 C422.00,1056.78 423.00,1057.46 424.00,1057.46 C425.00,1057.46 426.00,1057.22 427.00,1057.22 C428.00,1057.22 429.00,1057.40 430.00,1057.50 C430.97,1057.60 431.94,1057.82 432.90,1057.82 C433.87,1057.82 434.84,1057.81 435.81,1057.78 C436.77,1057.75 437.74,1057.42 438.71,1057.42 C439.68,1057.42 440.65,1057.46 441.61,1057.48 C442.58,1057.50 443.55,1057.50 444.52,1057.52 C445.49,1057.54 446.45,1057.61 447.42,1057.61 C448.39,1057.61 449.36,1057.59 450.32,1057.58 C451.29,1057.57 452.26,1057.55 453.23,1057.55 C454.20,1057.55 455.16,1057.57 456.13,1057.60 C457.10,1057.63 458.07,1057.82 459.04,1057.82 C460.00,1057.82 460.97,1057.56 461.94,1057.52 C462.91,1057.49 463.87,1057.47 464.84,1057.47 C465.81,1057.47 466.78,1057.67 467.75,1057.67 C468.71,1057.67 469.68,1057.34 470.65,1057.34 C471.62,1057.34 472.58,1057.35 473.55,1057.38 C474.52,1057.41 475.49,1057.86 476.46,1057.86 C477.42,1057.86 478.39,1057.54 479.36,1057.54 C480.33,1057.54 481.30,1057.56 482.26,1057.56 C483.23,1057.56 484.20,1057.19 485.17,1057.19 C486.13,1057.19 487.10,1057.40 488.07,1057.47 C489.04,1057.54 490.01,1057.59 490.97,1057.59 C491.94,1057.59 492.91,1057.20 493.88,1057.20 C494.85,1057.20 495.81,1057.61 496.78,1057.61 C497.75,1057.62 498.72,1057.63 499.68,1057.63 C500.65,1057.63 501.62,1057.23 502.59,1057.23 C503.56,1057.23 504.52,1057.63 505.49,1057.63 C506.46,1057.63 507.43,1057.52 508.39,1057.52 C509.36,1057.52 510.33,1057.67 511.30,1057.67 C512.27,1057.67 513.23,1057.44 514.20,1057.44 C515.17,1057.44 516.14,1057.67 517.11,1057.69 C518.07,1057.70 519.04,1057.71 520.01,1057.71 C520.98,1057.71 521.94,1057.21 522.91,1057.21 C523.88,1057.21 524.85,1057.22 525.82,1057.24 C526.78,1057.26 527.75,1057.57 528.72,1057.67 C529.69,1057.78 530.65,1057.88 531.62,1057.88 C532.59,1057.88 533.56,1057.38 534.53,1057.38 C535.49,1057.38 536.46,1057.48 537.43,1057.52 C538.40,1057.56 539.37,1057.62 540.33,1057.62 C541.30,1057.62 542.27,1057.43 543.24,1057.43 C544.20,1057.43 545.17,1057.46 546.14,1057.46 C547.11,1057.46 548.08,1057.43 549.04,1057.43 C550.01,1057.43 550.98,1057.44 551.95,1057.47 C552.92,1057.50 553.88,1057.63 554.85,1057.63 C555.82,1057.63 556.79,1057.42 557.75,1057.42 C558.72,1057.42 559.69,1057.44 560.66,1057.48 C561.63,1057.52 562.59,1057.76 563.56,1057.76 C564.53,1057.76 565.50,1057.24 566.46,1057.24 C567.43,1057.24 568.40,1057.54 569.37,1057.62 C570.34,1057.70 571.30,1057.74 572.27,1057.74 C573.24,1057.74 574.21,1057.48 575.18,1057.44 C576.14,1057.40 577.11,1057.38 578.08,1057.38 C579.05,1057.38 580.01,1057.79 580.98,1057.79 C581.95,1057.79 582.92,1057.42 583.89,1057.39 C584.85,1057.37 585.82,1057.36 586.79,1057.36 C587.76,1057.36 588.73,1057.48 589.69,1057.54 C590.66,1057.60 591.63,1057.72 592.60,1057.72 C593.56,1057.72 594.53,1057.63 595.50,1057.58" fill="none" stroke="#000" stroke-width="2.70" stroke-dasharray="6.6 4.9" stroke-linejoin="round"/>
</g>
<g transform="scale(1,1.200)">
<path d="M86.80,793.50 C107.87,793.50 128.93,793.50 150.00,793.50 C173.33,793.50 196.67,793.50 220.00,793.50 C236.67,793.50 253.33,793.50 270.00,793.50 C277.53,793.50 285.07,793.50 292.60,793.50 C293.27,793.50 293.93,793.50 294.60,793.50 C295.27,793.50 295.93,794.25 296.60,794.25 C297.27,794.25 297.93,793.58 298.60,793.58 C302.40,793.58 306.20,793.58 310.00,793.58 C310.63,793.58 311.27,794.25 311.90,794.25 C312.57,794.25 313.23,793.58 313.90,793.58 C320.33,793.58 326.77,793.61 333.20,793.67 C333.87,793.67 334.53,796.25 335.20,796.25 C335.87,796.25 336.53,793.83 337.20,793.83 C349.30,793.83 361.40,793.83 373.50,793.83 C374.00,793.83 374.50,794.03 375.00,794.42 C375.43,794.75 375.87,795.17 376.30,796.67 C376.47,797.24 376.63,800.83 376.80,804.17 C376.97,807.50 377.13,809.32 377.30,816.67 C377.40,821.08 377.50,823.61 377.60,833.33 C377.70,843.06 377.80,856.94 377.90,875.00 C377.97,887.04 378.03,895.83 378.10,916.67 C378.17,937.50 378.23,981.85 378.30,1000.00 C378.33,1009.07 378.37,1019.58 378.40,1020.00 C378.53,1021.67 378.67,1022.50 378.80,1022.50 C378.93,1022.50 379.07,1021.67 379.20,1020.00 C379.27,1019.17 379.33,1009.07 379.40,1000.00 C379.53,981.85 379.67,935.19 379.80,916.67 C380.00,888.89 380.20,887.97 380.40,875.00 C380.63,859.86 380.87,843.66 381.10,833.33 C381.27,825.96 381.43,820.96 381.60,816.67 C381.80,811.52 382.00,809.64 382.20,806.67 C382.37,804.19 382.53,801.23 382.70,800.00 C383.00,797.78 383.30,797.45 383.60,796.67 C383.93,795.79 384.27,795.45 384.60,795.25 C385.07,794.97 385.53,794.86 386.00,794.83 C389.77,794.61 393.53,794.50 397.30,794.50 C397.97,794.50 398.63,795.25 399.30,795.25 C399.97,795.25 400.63,794.51 401.30,794.50 C411.27,794.39 421.23,794.33 431.20,794.33 C431.87,794.33 432.53,795.00 433.20,795.00 C433.87,795.00 434.53,794.37 435.20,794.33 C443.47,793.83 451.73,793.62 460.00,793.58 C473.33,793.53 486.67,793.50 500.00,793.50 C516.67,793.50 533.33,793.50 550.00,793.50 C565.17,793.50 580.33,793.50 595.50,793.50" fill="none" stroke="#000" stroke-width="3.50" stroke-linejoin="round" stroke-linecap="butt"/>
</g>
</svg></body></html>
